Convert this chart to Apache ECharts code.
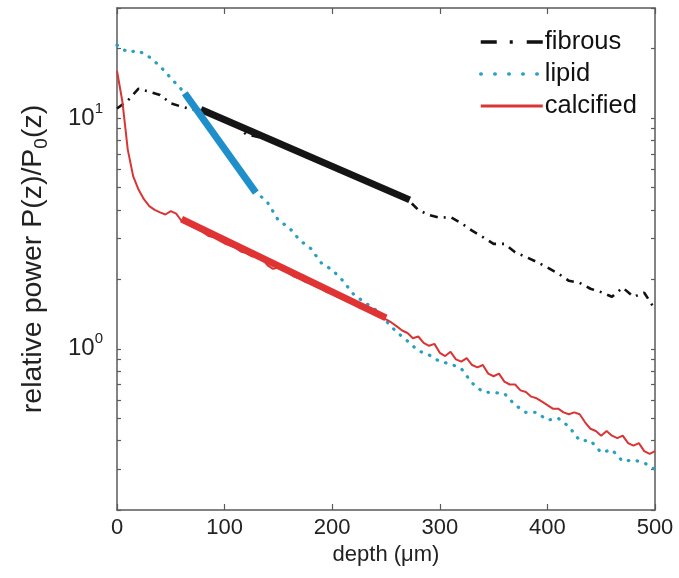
<!DOCTYPE html>
<html>
<head>
<meta charset="utf-8">
<script src="https://cdn.jsdelivr.net/npm/echarts@6/dist/echarts.min.js"></script>
<style>html,body{margin:0;padding:0;background:#fff;}#c{width:679px;height:578px;}</style>
</head>
<body>
<div id="c"></div>
<script>
// ---- data (depth in µm, relative power P(z)/P0(z)) ----
const depth10 = [0,10,20,30,40,50,60,70,80,90,100,110,120,130,140,150,160,170,180,190,200,
  210,220,230,240,250,260,270,280,290,300,310,320,330,340,350,360,370,380,390,400,
  410,420,430,440,450,460,470,480,490,500];
const fibrousPower = [11.0,11.9,13.4,13.0,12.6,11.6,11.2,10.9,10.8,10.3,9.8,9.4,8.5,8.3,8.1,7.9,7.4,7.2,6.7,6.5,6.1,
  5.95,5.6,5.4,5.1,4.9,4.65,4.45,4.0,3.8,3.7,3.72,3.5,3.25,3.05,2.85,2.85,2.62,2.5,2.38,2.25,
  2.12,1.97,1.93,1.82,1.76,1.68,1.84,1.68,1.75,1.48];
const lipidPower = [20.7,19.3,19.6,18.4,16.8,14.9,13.3,11.5,9.9,8.5,7.3,6.3,5.5,4.75,4.3,3.6,3.35,2.95,2.72,2.35,2.2,
  1.97,1.72,1.59,1.48,1.32,1.18,1.08,0.98,0.94,0.88,0.86,0.82,0.71,0.65,0.645,0.64,0.57,0.53,0.53,0.49,
  0.50,0.46,0.40,0.40,0.355,0.365,0.325,0.33,0.32,0.30];
const depth5 = [0,5,10,15,20,25,30,35,40,45,50,55,60,65,70,75,80,85,90,95,100,
  105,110,115,120,125,130,135,140,145,150,155,160,165,170,175,180,185,190,195,200,
  205,210,215,220,225,230,235,240,245,250,255,260,265,270,275,280,285,290,295,300,
  305,310,315,320,325,330,335,340,345,350,355,360,365,370,375,380,385,390,395,400,
  405,410,415,420,425,430,435,440,445,450,455,460,465,470,475,480,485,490,495,500];
const calcifiedPower = [16.0,11.8,7.3,5.6,4.9,4.45,4.15,4.0,3.9,3.82,3.95,3.85,3.58,3.48,3.38,3.30,3.2,3.08,3.04,2.95,2.86,
  2.80,2.74,2.64,2.60,2.52,2.50,2.44,2.30,2.22,2.25,2.18,2.12,2.05,2.01,1.95,1.91,1.86,1.82,1.76,1.73,
  1.68,1.64,1.60,1.56,1.51,1.48,1.44,1.40,1.37,1.34,1.30,1.25,1.20,1.17,1.11,1.13,1.06,1.03,1.05,0.96,
  0.93,0.97,0.90,0.88,0.91,0.85,0.83,0.85,0.78,0.76,0.78,0.72,0.70,0.70,0.66,0.65,0.62,0.61,0.59,0.57,
  0.55,0.55,0.53,0.52,0.53,0.52,0.48,0.45,0.44,0.42,0.44,0.42,0.41,0.42,0.39,0.38,0.39,0.36,0.35,0.36];
// exponential fits (end points)
const fibrousFitDepth = [78, 272];
const fibrousFitPower = [10.9, 4.42];
const lipidFitDepth = [63, 129];
const lipidFitPower = [12.8, 4.75];
const calcifiedFitDepth = [60, 250];
const calcifiedFitPower = [3.65, 1.36];
// axes
const xTicks = [0,100,200,300,400,500];
const yLabelValues = [1, 10];
const yTickValues = [0.2,0.3,0.4,0.5,0.6,0.7,0.8,0.9,1,2,3,4,5,6,7,8,9,10,20,30];
const legendNames = ['fibrous','lipid','calcified'];

const pairs = (xs, ys) => xs.map((x, i) => [x, ys[i]]);
const FONT = '"Liberation Sans", Arial, Helvetica, sans-serif';
const AX = '#5a5a5a';

const baseX = {
  type: 'value', min: 0, max: 500, interval: 100,
  axisLine: {show: true, onZero: false, lineStyle: {color: AX, width: 1.5}},
  axisTick: {show: true, inside: true, length: 6, lineStyle: {color: AX, width: 1.2}, customValues: xTicks},
  splitLine: {show: false}
};
const baseY = {
  type: 'log', logBase: 10, min: 0.2, max: 30,
  axisLine: {show: true, onZero: false, lineStyle: {color: AX, width: 1.5}},
  axisTick: {show: true, inside: true, length: 4, lineStyle: {color: AX, width: 1.2}, customValues: yTickValues},
  splitLine: {show: false}, minorTick: {show: false}
};
const legendLineStyles = [
  {color: '#111', width: 3.5, type: [16, 13, 3, 14]},
  {color: '#2aa0c0', width: 3.5, type: [0.5, 13.5], cap: 'round'},
  {color: '#d93535', width: 3}
];

const chart = echarts.init(document.getElementById('c'), null, {renderer: 'canvas'});
chart.setOption({
  animation: false,
  backgroundColor: '#fff',
  textStyle: {fontFamily: FONT},
  grid: {left: 117, right: 24, top: 8, bottom: 68, containLabel: false},
  legend: {
    data: legendNames.map((n, i) => ({name: n, lineStyle: legendLineStyles[i]})),
    orient: 'vertical', left: 474, top: 24,
    itemWidth: 62, itemHeight: 14, itemGap: 6,
    itemStyle: {opacity: 0},
    textStyle: {fontSize: 25.5, color: '#111', fontFamily: FONT, lineHeight: 26, padding: [0,0,0,-3]}
  },
  xAxis: [
    Object.assign({}, baseX, {
      position: 'bottom', name: 'depth (μm)', nameLocation: 'middle', nameGap: 31,
      nameTextStyle: {fontSize: 22, color: '#222', fontFamily: FONT},
      axisLabel: {show: true, fontSize: 22, color: '#222', margin: 7, fontFamily: FONT}
    }),
    Object.assign({}, baseX, {position: 'top', axisLabel: {show: false}})
  ],
  yAxis: [
    Object.assign({}, baseY, {
      position: 'left',
      name: '{t|relative power P(z)/P}{sub|0}{t|(z)}', nameLocation: 'middle', nameGap: 66,
      nameTextStyle: {rich: {
        t: {fontSize: 28.5, color: '#222', fontFamily: FONT, lineHeight: 36},
        sub: {fontSize: 19, color: '#222', fontFamily: FONT, lineHeight: 19, verticalAlign: 'bottom'}
      }},
      axisLabel: {
        show: true, margin: 14, customValues: yLabelValues,
        formatter: v => '{b|10}{s|' + Math.round(Math.log10(v)) + '}',
        rich: {
          b: {fontSize: 24, color: '#222', fontFamily: FONT, lineHeight: 34},
          s: {fontSize: 15, color: '#222', fontFamily: FONT, lineHeight: 15, verticalAlign: 'top'}
        }
      }
    }),
    Object.assign({}, baseY, {position: 'right', axisLabel: {show: false}})
  ],
  series: [
    {name: 'fibrous', type: 'line', data: pairs(depth10, fibrousPower), symbol: 'none', z: 3,
     color: '#111', lineStyle: {color: '#111', width: 2.6, type: [8, 6, 2, 6]}},
    {name: 'lipid', type: 'line', data: pairs(depth10, lipidPower), symbol: 'none', z: 3,
     color: '#2aa0c0', lineStyle: {color: '#2aa0c0', width: 3.2, type: [0.5, 8.5], cap: 'round'}},
    {name: 'calcified', type: 'line', data: pairs(depth5, calcifiedPower), symbol: 'none', z: 3,
     color: '#d93535', lineStyle: {color: '#d93535', width: 2}},
    {name: 'fibrous fit', type: 'line', data: pairs(fibrousFitDepth, fibrousFitPower), symbol: 'none', z: 5,
     lineStyle: {color: '#151515', width: 7}},
    {name: 'lipid fit', type: 'line', data: pairs(lipidFitDepth, lipidFitPower), symbol: 'none', z: 5,
     lineStyle: {color: '#1f8fcc', width: 7}},
    {name: 'calcified fit', type: 'line', data: pairs(calcifiedFitDepth, calcifiedFitPower), symbol: 'none', z: 5,
     lineStyle: {color: '#e03434', width: 7}}
  ]
});
</script>
</body>
</html>
